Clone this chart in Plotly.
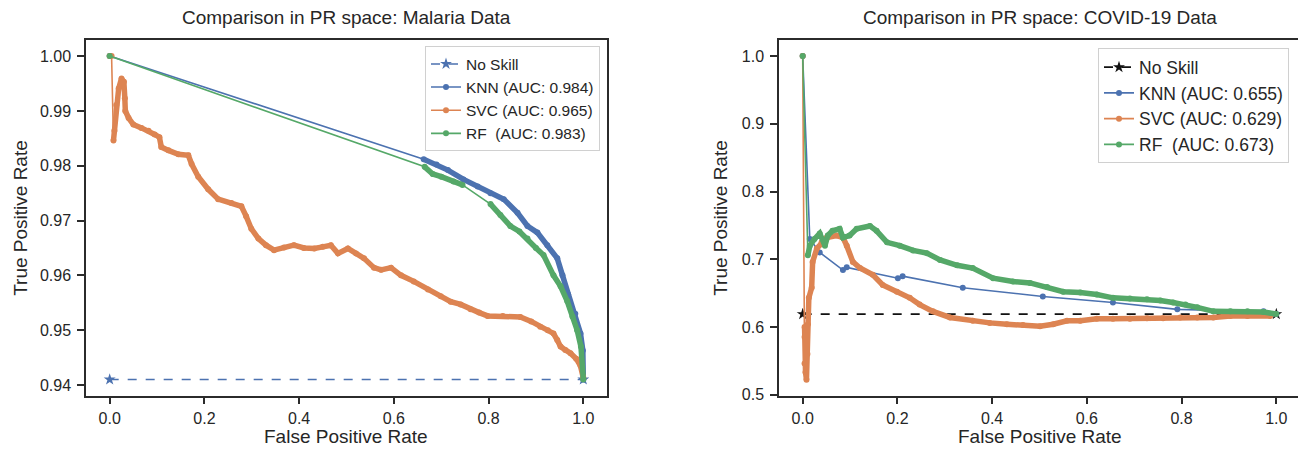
import plotly.graph_objects as go

# ---------------- Data: Malaria (left) ----------------
mal_noskill_fpr = [0.0, 1.0]
mal_noskill_tpr = [0.941, 0.941]

mal_knn_fpr = [0.0, 0.663, 0.690, 0.714, 0.747, 0.777, 0.804, 0.832, 0.861, 0.882,
               0.903, 0.924, 0.945, 0.956, 0.968, 0.983, 0.994, 0.999, 1.0]
mal_knn_tpr = [1.0, 0.9812, 0.9802, 0.9792, 0.9775, 0.9762, 0.9750, 0.9739, 0.9714, 0.9690,
               0.9678, 0.9655, 0.9631, 0.9600, 0.9565, 0.9530, 0.9494, 0.9463, 0.9410]

mal_svc_fpr = [0.0, 0.004, 0.008, 0.010, 0.014, 0.019, 0.025, 0.030, 0.032, 0.033,
               0.040, 0.050, 0.067, 0.082, 0.095, 0.105, 0.109, 0.124, 0.145, 0.166,
               0.173, 0.187, 0.208, 0.229, 0.257, 0.278, 0.288, 0.299, 0.314, 0.330,
               0.347, 0.368, 0.389, 0.410, 0.432, 0.450, 0.467, 0.482, 0.503, 0.520,
               0.537, 0.558, 0.573, 0.594, 0.615, 0.642, 0.672, 0.699, 0.720, 0.741,
               0.762, 0.780, 0.798, 0.830, 0.867, 0.890, 0.909, 0.925, 0.937, 0.945,
               0.952, 0.962, 0.973, 0.985, 0.994, 1.0]
mal_svc_tpr = [1.0, 1.0, 0.9846, 0.9864, 0.9911, 0.9941, 0.9959, 0.9953, 0.9923, 0.9900,
               0.9887, 0.9875, 0.9869, 0.9864, 0.9857, 0.9852, 0.9834, 0.9828, 0.9821, 0.9819,
               0.9803, 0.9780, 0.9757, 0.9739, 0.9732, 0.9726, 0.9708, 0.9685, 0.9667, 0.9655,
               0.9646, 0.9651, 0.9655, 0.9650, 0.9649, 0.9652, 0.9655, 0.9640, 0.9649, 0.9640,
               0.9631, 0.9614, 0.9610, 0.9614, 0.9600, 0.9589, 0.9574, 0.9562, 0.9552, 0.9547,
               0.9538, 0.9532, 0.9526, 0.9526, 0.9524, 0.9516, 0.9506, 0.9500, 0.9494, 0.9482,
               0.9470, 0.9464, 0.9458, 0.9448, 0.9435, 0.9413]

mal_rf_fpr = [0.0, 0.665, 0.682, 0.700, 0.726, 0.745, 0.804, 0.825, 0.846, 0.865,
              0.882, 0.900, 0.916, 0.937, 0.952, 0.966, 0.977, 0.987, 0.995, 1.0]
mal_rf_tpr = [1.0, 0.9798, 0.9785, 0.9780, 0.9771, 0.9765, 0.9730, 0.9710, 0.9690, 0.9680,
              0.9667, 0.9650, 0.9637, 0.9600, 0.9580, 0.9553, 0.9525, 0.9500, 0.9470, 0.9410]

mal_labels = ["No Skill", "KNN (AUC: 0.984)", "SVC (AUC: 0.965)", "RF\u00a0 (AUC: 0.983)"]

# ---------------- Data: COVID-19 (right) ----------------
cov_noskill_fpr = [0.0, 1.0]
cov_noskill_tpr = [0.619, 0.619]

cov_knn_fpr = [0.0, 0.015, 0.036, 0.085, 0.093, 0.201, 0.211, 0.338, 0.507, 0.655, 0.791, 0.973, 1.0]
cov_knn_tpr = [1.0, 0.730, 0.710, 0.684, 0.688, 0.672, 0.675, 0.658, 0.645, 0.636, 0.626, 0.623, 0.619]

cov_svc_fpr = [0.0, 0.004, 0.004, 0.004, 0.006, 0.008, 0.010, 0.011, 0.013, 0.019,
               0.021, 0.030, 0.040, 0.051, 0.072, 0.085, 0.093, 0.106, 0.121, 0.148,
               0.169, 0.199, 0.226, 0.247, 0.275, 0.311, 0.359, 0.395, 0.431, 0.465,
               0.501, 0.529, 0.558, 0.586, 0.621, 0.655, 0.691, 0.727, 0.761, 0.797,
               0.833, 0.867, 0.903, 0.939, 0.987]
cov_svc_tpr = [1.0, 0.600, 0.585, 0.546, 0.533, 0.522, 0.560, 0.604, 0.643, 0.658,
               0.696, 0.716, 0.725, 0.732, 0.735, 0.732, 0.720, 0.696, 0.687, 0.677,
               0.662, 0.652, 0.643, 0.633, 0.623, 0.614, 0.609, 0.606, 0.604, 0.603,
               0.601, 0.604, 0.609, 0.609, 0.612, 0.612, 0.612, 0.613, 0.613, 0.614,
               0.614, 0.614, 0.616, 0.616, 0.616]

cov_rf_fpr = [0.0, 0.011, 0.015, 0.025, 0.036, 0.047, 0.053, 0.063, 0.078, 0.085,
              0.099, 0.114, 0.142, 0.156, 0.178, 0.205, 0.233, 0.262, 0.290, 0.326,
              0.359, 0.402, 0.444, 0.480, 0.516, 0.550, 0.586, 0.621, 0.655, 0.691,
              0.727, 0.755, 0.782, 0.808, 0.833, 0.867, 0.903, 0.939, 0.973, 1.0]
cov_rf_tpr = [1.0, 0.706, 0.720, 0.730, 0.738, 0.720, 0.735, 0.742, 0.745, 0.732,
              0.735, 0.745, 0.749, 0.742, 0.725, 0.720, 0.713, 0.709, 0.699, 0.691,
              0.687, 0.672, 0.667, 0.665, 0.659, 0.652, 0.651, 0.648, 0.643, 0.642,
              0.641, 0.639, 0.636, 0.633, 0.629, 0.623, 0.623, 0.623, 0.622, 0.619]

cov_labels = ["No Skill", "KNN (AUC: 0.655)", "SVC (AUC: 0.629)", "RF\u00a0 (AUC: 0.673)"]

x_ticks = [0.0, 0.2, 0.4, 0.6, 0.8, 1.0]
mal_y_ticks = [0.94, 0.95, 0.96, 0.97, 0.98, 0.99, 1.00]
cov_y_ticks = [0.5, 0.6, 0.7, 0.8, 0.9, 1.0]

# ---------------- Style ----------------
BLUE = "#4C72B0"
ORANGE = "#DD8452"
GREEN = "#55A868"
TXT = "#262626"
SPINE = "#2b2b2b"
FONT = "Liberation Sans, Arial, sans-serif"

# page body has an 8px margin; size the figure so it fits the 1306x457 window
OFF = 8
FW, FH = 1306 - OFF, 457 - OFF


def px_x(px):
    return (px - OFF) / FW


def px_y(py):
    return 1 - (py - OFF) / FH


X_RANGE = [-0.05, 1.05]
MAL_Y_RANGE = [0.93805, 1.00295]
COV_Y_RANGE = [0.4985, 1.0239]


def dense_path(xs, ys, xr, yr, fx=0.045, fy=0.12):
    """Thick overlay only where consecutive points are closely packed."""
    ox, oy = [xs[0]], [ys[0]]
    xspan = xr[1] - xr[0]
    yspan = yr[1] - yr[0]
    for i in range(1, len(xs)):
        if abs(xs[i] - xs[i - 1]) / xspan > fx or abs(ys[i] - ys[i - 1]) / yspan > fy:
            ox.append(None)
            oy.append(None)
        ox.append(xs[i])
        oy.append(ys[i])
    return ox, oy


fig = go.Figure()


def add_series(xs, ys, name, color, xa, ya, legend, yr, dense=True):
    fig.add_trace(go.Scatter(
        x=xs, y=ys, name=name, mode="lines+markers",
        line=dict(color=color, width=1.6),
        marker=dict(color=color, size=6, symbol="circle"),
        xaxis=xa, yaxis=ya, legend=legend, showlegend=True))
    if dense:
        dx, dy = dense_path(xs, ys, X_RANGE, yr)
        fig.add_trace(go.Scatter(
            x=dx, y=dy, mode="lines", connectgaps=False,
            line=dict(color=color, width=5.5),
            xaxis=xa, yaxis=ya, showlegend=False, hoverinfo="skip"))


# Left panel
fig.add_trace(go.Scatter(
    x=mal_noskill_fpr, y=mal_noskill_tpr, name=mal_labels[0], mode="lines+markers",
    line=dict(color=BLUE, width=1.5, dash="dash"),
    marker=dict(color=BLUE, size=9, symbol="star"),
    xaxis="x", yaxis="y", legend="legend"))
add_series(mal_knn_fpr, mal_knn_tpr, mal_labels[1], BLUE, "x", "y", "legend", MAL_Y_RANGE)
add_series(mal_svc_fpr, mal_svc_tpr, mal_labels[2], ORANGE, "x", "y", "legend", MAL_Y_RANGE)
add_series(mal_rf_fpr, mal_rf_tpr, mal_labels[3], GREEN, "x", "y", "legend", MAL_Y_RANGE)

# Right panel
fig.add_trace(go.Scatter(
    x=cov_noskill_fpr, y=cov_noskill_tpr, name=cov_labels[0], mode="lines+markers",
    line=dict(color="#111111", width=1.8, dash="dash"),
    marker=dict(color="#111111", size=9, symbol="star"),
    xaxis="x2", yaxis="y2", legend="legend2"))
add_series(cov_knn_fpr, cov_knn_tpr, cov_labels[1], BLUE, "x2", "y2", "legend2", COV_Y_RANGE, dense=False)
add_series(cov_svc_fpr, cov_svc_tpr, cov_labels[2], ORANGE, "x2", "y2", "legend2", COV_Y_RANGE)
add_series(cov_rf_fpr, cov_rf_tpr, cov_labels[3], GREEN, "x2", "y2", "legend2", COV_Y_RANGE)

# ---------------- Layout ----------------
left_dom = [px_x(86), px_x(607)]
right_dom = [px_x(779), px_x(1300)]
y_dom = [px_y(402.7), px_y(40.5)]

axis_common = dict(
    showline=True, mirror=True, linecolor=SPINE, linewidth=1.5,
    ticks="outside", ticklen=7, tickwidth=1.5, tickcolor=SPINE,
    showgrid=False, zeroline=False,
    tickfont=dict(family=FONT, size=16, color=TXT),
)

fig.update_layout(
    width=FW, height=FH,
    margin=dict(l=0, r=0, t=0, b=0),
    paper_bgcolor="white", plot_bgcolor="white",
    font=dict(family=FONT, color=TXT),
    xaxis=dict(domain=left_dom, range=X_RANGE, anchor="y", ticklabelstandoff=0,
               tickvals=x_ticks, ticktext=[f"{v:.1f}" for v in x_ticks], **axis_common),
    yaxis=dict(domain=y_dom, range=MAL_Y_RANGE, anchor="x", ticklabelstandoff=3,
               tickvals=mal_y_ticks, ticktext=[f"{v:.2f}" for v in mal_y_ticks], **axis_common),
    xaxis2=dict(domain=right_dom, range=X_RANGE, anchor="y2", ticklabelstandoff=0,
                tickvals=x_ticks, ticktext=[f"{v:.1f}" for v in x_ticks], **axis_common),
    yaxis2=dict(domain=y_dom, range=COV_Y_RANGE, anchor="x2", ticklabelstandoff=3,
                tickvals=cov_y_ticks, ticktext=[f"{v:.1f}" for v in cov_y_ticks], **axis_common),
    legend=dict(x=px_x(600), xanchor="right", y=px_y(47), yanchor="top",
                bgcolor="rgba(255,255,255,0.85)", bordercolor="#d0d0d0", borderwidth=1,
                font=dict(family=FONT, size=15.5, color=TXT), tracegroupgap=0),
    legend2=dict(x=px_x(1289), xanchor="right", y=px_y(49), yanchor="top",
                 bgcolor="rgba(255,255,255,0.85)", bordercolor="#d0d0d0", borderwidth=1,
                 font=dict(family=FONT, size=17.5, color=TXT), tracegroupgap=0),
)

ann = []
for cx, title in [(px_x((86 + 607) / 2), "Comparison in PR space: Malaria Data"),
                  (px_x((779 + 1300) / 2), "Comparison in PR space: COVID-19 Data")]:
    ann.append(dict(x=cx, y=px_y(18), xref="paper", yref="paper", text=title,
                    showarrow=False, xanchor="center", yanchor="middle",
                    font=dict(family=FONT, size=19, color=TXT)))
    ann.append(dict(x=cx, y=px_y(444), xref="paper", yref="paper", text="False Positive Rate",
                    showarrow=False, xanchor="center", yanchor="middle",
                    font=dict(family=FONT, size=19, color=TXT)))
for cx in [px_x(21), px_x(721)]:
    ann.append(dict(x=cx, y=px_y(221.6), xref="paper", yref="paper", text="True Positive Rate",
                    showarrow=False, xanchor="center", yanchor="middle", textangle=-90,
                    font=dict(family=FONT, size=19, color=TXT)))
fig.update_layout(annotations=ann)

fig.write_html("out.html")
